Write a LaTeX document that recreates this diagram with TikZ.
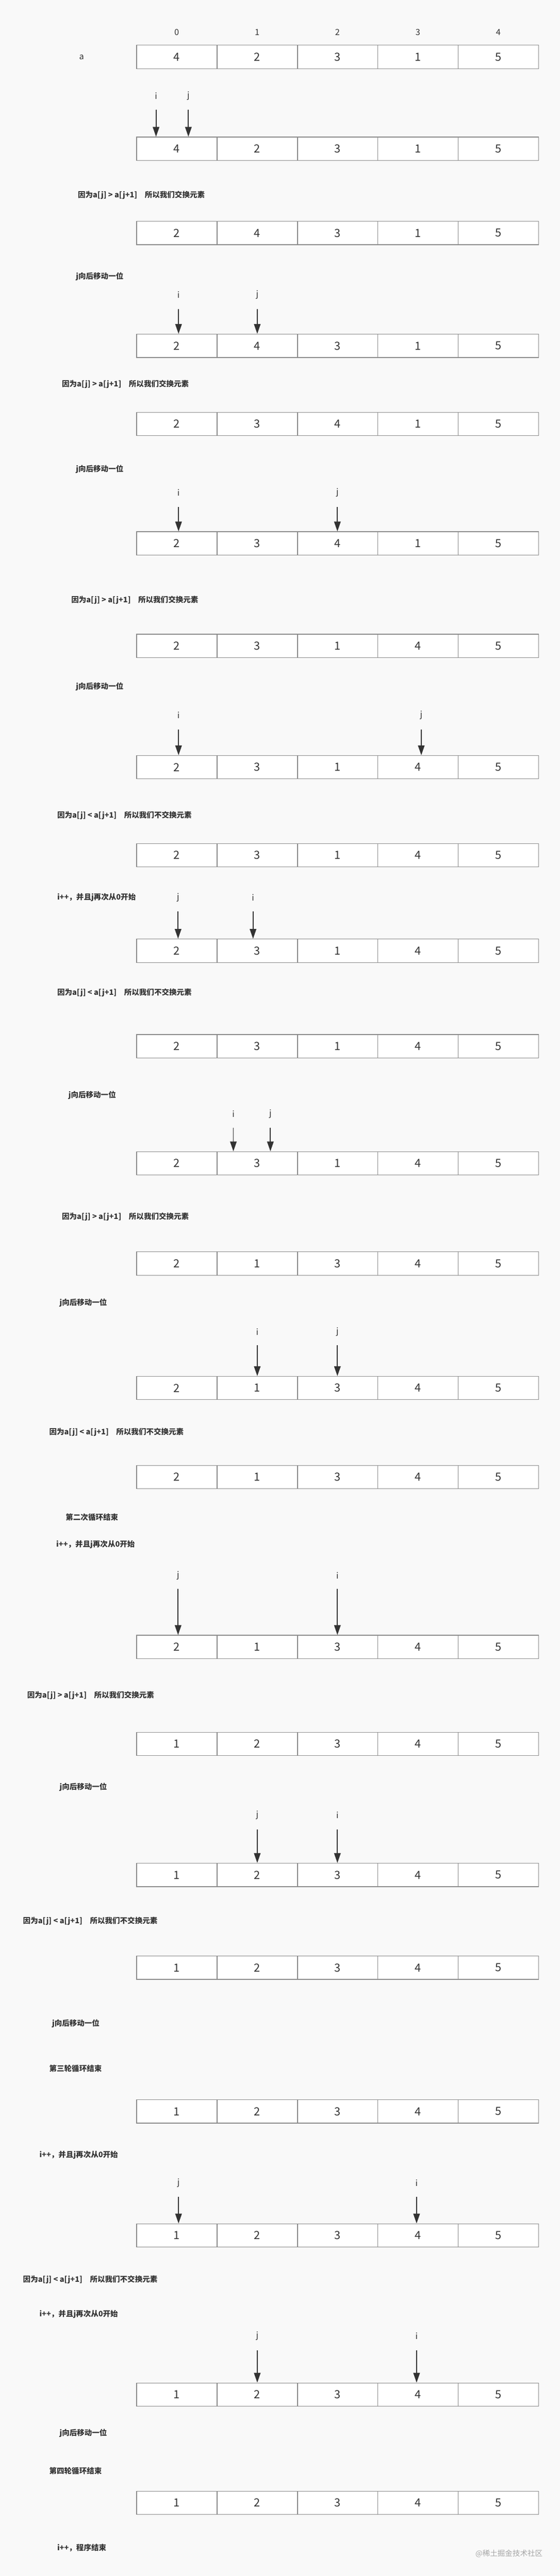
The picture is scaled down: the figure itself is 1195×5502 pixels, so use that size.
\documentclass[tikz,border=0pt]{standalone}
\usepackage{fontspec}
\setmainfont{Noto Sans CJK SC}
\usetikzlibrary{arrows.meta}
\definecolor{bg}{HTML}{F9F9F9}
\definecolor{cellline}{HTML}{8A8A8A}
\definecolor{ink}{HTML}{333333}
\tikzset{
  cell/.style={draw=cellline, line width=1.3pt, fill=white, minimum width=171.6pt, minimum height=50pt, inner sep=0pt, anchor=north west, font=\fontsize{24}{24}\selectfont, text=ink},
  note/.style={anchor=west, inner sep=0pt, font=\bfseries\fontsize{16}{16}\selectfont, text=ink},
  plab/.style={inner sep=0pt, font=\fontsize{18}{18}\selectfont, text=ink},
  parrow/.style={draw=ink, line width=2pt, -{Triangle[length=21pt,width=14pt]}, shorten >=0pt}
}
\newcommand\arow[7]{%
  \foreach \v [count=\k from 0] in {#3,#4,#5,#6,#7}
    \node[cell] (#1c\k) at ({291+171.6*\k},#2) {\v};}
\newcommand\ptr[6]{%
  \node[plab] (#1l) at (#3,#4) {#2};
  \coordinate (#1) at (#3,#5);
  \draw[parrow] (#1) -- (#1 |- #6c0.north);}
\begin{document}
\begin{tikzpicture}[x=1pt,y=-1pt]
\fill[bg] (0,0) rectangle (1195,5502);
\useasboundingbox (0,0) rectangle (1195,5502);
\foreach \k in {0,...,4} \node[plab] (idx\k) at ({377+171.6*\k},69) {\k};
\node[plab] (alab) at (174,122) {a};
\arow{r1}{96}{4}{2}{3}{1}{5}
\arow{r2}{292}{4}{2}{3}{1}{5}
\ptr{p2i}{i}{333}{205}{234}{r2}
\ptr{p2j}{j}{402}{205}{234}{r2}
\node[note] (t1) at (166,417) {因为a[j] > a[j+1]\quad 所以我们交换元素};
\arow{r3}{472}{2}{4}{3}{1}{5}
\node[note] (t2) at (162,591) {j向后移动一位};
\arow{r4}{713}{2}{4}{3}{1}{5}
\ptr{p4i}{i}{381}{630}{660}{r4}
\ptr{p4j}{j}{549}{630}{660}{r4}
\node[note] (t3) at (132,821) {因为a[j] > a[j+1]\quad 所以我们交换元素};
\arow{r5}{880}{2}{3}{4}{1}{5}
\node[note] (t4) at (162,1002) {j向后移动一位};
\arow{r6}{1135}{2}{3}{4}{1}{5}
\ptr{p6i}{i}{381}{1052}{1083}{r6}
\ptr{p6j}{j}{720}{1052}{1083}{r6}
\node[note] (t5) at (152,1282) {因为a[j] > a[j+1]\quad 所以我们交换元素};
\arow{r7}{1354}{2}{3}{1}{4}{5}
\node[note] (t6) at (162,1467) {j向后移动一位};
\arow{r8}{1613}{2}{3}{1}{4}{5}
\ptr{p8i}{i}{381}{1528}{1558}{r8}
\ptr{p8j}{j}{899}{1528}{1558}{r8}
\node[note] (t7) at (122,1742) {因为a[j] < a[j+1]\quad 所以我们不交换元素};
\arow{r9}{1801}{2}{3}{1}{4}{5}
\node[note] (t8) at (122,1917) {i++，并且j再次从0开始};
\arow{r10}{2005}{2}{3}{1}{4}{5}
\ptr{p10j}{j}{380}{1917}{1947}{r10}
\ptr{p10i}{i}{540}{1917}{1947}{r10}
\node[note] (t9) at (122,2120) {因为a[j] < a[j+1]\quad 所以我们不交换元素};
\arow{r11}{2209}{2}{3}{1}{4}{5}
\node[note] (t10) at (146,2339) {j向后移动一位};
\arow{r12}{2459}{2}{3}{1}{4}{5}
\ptr{p12i}{i}{498}{2379}{2409}{r12}
\ptr{p12j}{j}{577}{2379}{2409}{r12}
\node[note] (t11) at (132,2599) {因为a[j] > a[j+1]\quad 所以我们交换元素};
\arow{r13}{2673}{2}{1}{3}{4}{5}
\node[note] (t12) at (127,2783) {j向后移动一位};
\arow{r14}{2939}{2}{1}{3}{4}{5}
\ptr{p14i}{i}{549}{2845}{2873}{r14}
\ptr{p14j}{j}{720}{2845}{2873}{r14}
\node[note] (t13) at (105,3059) {因为a[j] < a[j+1]\quad 所以我们不交换元素};
\arow{r15}{3129}{2}{1}{3}{4}{5}
\node[note] (t14) at (140,3241) {第二次循环结束};
\node[note] (t15) at (120,3299) {i++，并且j再次从0开始};
\arow{r16}{3492}{2}{1}{3}{4}{5}
\ptr{p16j}{j}{380}{3365}{3394}{r16}
\ptr{p16i}{i}{720}{3365}{3394}{r16}
\node[note] (t16) at (58,3621) {因为a[j] > a[j+1]\quad 所以我们交换元素};
\arow{r17}{3699}{1}{2}{3}{4}{5}
\node[note] (t17) at (127,3817) {j向后移动一位};
\arow{r18}{3979}{1}{2}{3}{4}{5}
\ptr{p18j}{j}{549}{3877}{3907}{r18}
\ptr{p18i}{i}{720}{3877}{3907}{r18}
\node[note] (t18) at (49,4103) {因为a[j] < a[j+1]\quad 所以我们不交换元素};
\arow{r19}{4177}{1}{2}{3}{4}{5}
\node[note] (t19) at (111,4322) {j向后移动一位};
\node[note] (t20) at (105,4418) {第三轮循环结束};
\arow{r20}{4484}{1}{2}{3}{4}{5}
\node[note] (t21) at (84,4603) {i++，并且j再次从0开始};
\arow{r21}{4749}{1}{2}{3}{4}{5}
\ptr{p21j}{j}{381}{4662}{4692}{r21}
\ptr{p21i}{i}{889}{4662}{4692}{r21}
\node[note] (t22) at (49,4869) {因为a[j] < a[j+1]\quad 所以我们不交换元素};
\node[note] (t23) at (84,4943) {i++，并且j再次从0开始};
\arow{r22}{5089}{1}{2}{3}{4}{5}
\ptr{p22j}{j}{549}{4989}{5020}{r22}
\ptr{p22i}{i}{889}{4989}{5020}{r22}
\node[note] (t24) at (127,5197) {j向后移动一位};
\node[note] (t25) at (105,5278) {第四轮循环结束};
\arow{r23}{5320}{1}{2}{3}{4}{5}
\node[note] (t26) at (122,5442) {i++，程序结束};
\node[anchor=east, inner sep=0pt, font=\fontsize{16}{16}\selectfont, text=black!35] (wm) at (1158,5454) {@稀土掘金技术社区};
\end{tikzpicture}
\end{document}
